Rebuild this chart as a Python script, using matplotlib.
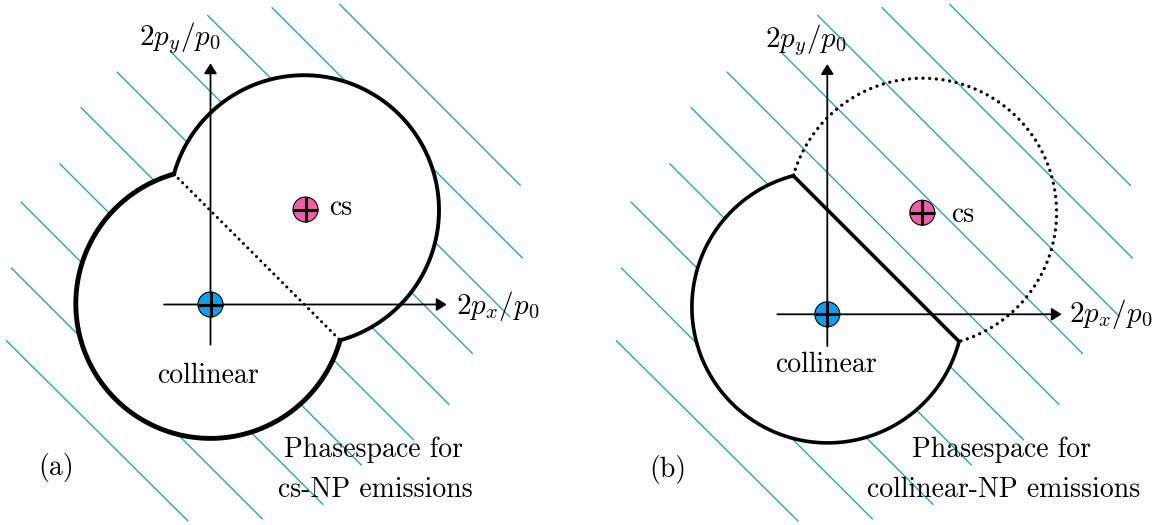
import numpy as np
import matplotlib
matplotlib.use("Agg")
import matplotlib.pyplot as plt
from matplotlib.patches import Circle, Polygon

plt.rcParams['mathtext.fontset'] = 'cm'

# ---------------- data (pixel-space diagram coordinates) ----------------
# hatch lines (same pattern in both panels, shifted horizontally)
hatch_start_x = [339.3, 271.7, 207.3, 170.7, 116.7, 80.7, 59.3, 20.7, 11.0, 6.0]
hatch_start_y = [4.0, 7.3, 15.0, 51.7, 71.7, 107.3, 163.3, 201.7, 267.7, 340.3]
hatch_end_x = [520.7, 522.7, 510.0, 472.7, 449.3, 414.0, 361.7, 323.3, 262.7, 188.3]
hatch_end_y = [185.7, 258.3, 317.0, 353.7, 404.7, 440.3, 465.3, 504.7, 519.3, 521.3]
hatch_shift = [0, 610]

panels = ["a", "b"]
coll_center = [(210.5, 303.7), (827.7, 307.1)]
coll_radius = [134.7, 135.8]
cs_center = [(304.0, 210.2), (922.4, 212.4)]
cs_radius = [135.0, 134.2]
blue_marker = [(210.5, 304.5), (827.3, 314.3)]
pink_marker = [(305.5, 209.5), (922.3, 212.7)]
marker_r = 12.5

# axes: (x of vertical axis, y bottom, y tip), (y of horizontal axis, x left, x tip)
vaxis = [(210.5, 344.7, 63.3), (827.3, 346.0, 64.0)]
haxis = [(304.5, 164.0, 446.7), (314.3, 777.3, 1061.7)]

ylabel_pos = [(180, 38), (806, 40)]
xlabel_pos = [(498, 306), (1111, 314)]
cs_label_pos = [(329, 215), (951, 222.5)]
coll_label_pos = [(208, 383), (826.5, 372)]
panel_label_pos = [(56, 475), (668, 477)]
phase_line1 = ["Phasespace for", "Phasespace for"]
phase_line2 = ["cs-NP emissions", "collinear-NP emissions"]
phase_pos1 = [(373, 457), (1001.7, 457)]
phase_pos2 = [(375, 497), (1003.5, 497)]
panel_labels = ["(a)", "(b)"]

teal = "#1aa8a0"
blue = "#0aa0f0"
pink = "#ee5fa8"

FS = 20
TXT = dict(fontfamily="cmr10", fontsize=FS, color="black")

# ---------------- helpers ----------------
def intersect(c1, r1, c2, r2):
    c1 = np.array(c1); c2 = np.array(c2)
    d = np.linalg.norm(c2 - c1)
    a = (r1**2 - r2**2 + d**2) / (2 * d)
    h = np.sqrt(max(r1**2 - a**2, 0))
    u = (c2 - c1) / d
    m = c1 + a * u
    perp = np.array([-u[1], u[0]])
    p1 = m + h * perp
    p2 = m - h * perp
    if p1.sum() > p2.sum():
        p1, p2 = p2, p1
    return p1, p2


def arc_away(c, r, other, p1, p2, n=400):
    c = np.array(c)
    a1 = np.arctan2(p1[1] - c[1], p1[0] - c[0])
    a2 = np.arctan2(p2[1] - c[1], p2[0] - c[0])
    away = np.arctan2(c[1] - other[1], c[0] - other[0])
    d = (a2 - a1) % (2 * np.pi)
    da = (away - a1) % (2 * np.pi)
    if da < d:
        t = np.linspace(a1, a1 + d, n)
    else:
        t = np.linspace(a1, a1 - (2 * np.pi - d), n)
    return np.column_stack([c[0] + r * np.cos(t), c[1] + r * np.sin(t)])


# ---------------- figure ----------------
fig = plt.figure(figsize=(11.58, 5.25), dpi=100)
ax = fig.add_axes([0, 0, 1, 1])
ax.set_xlim(0, 1158)
ax.set_ylim(525, 0)
ax.axis("off")

dot_style = dict(linestyle=(0, (0.01, 2.0)), dash_capstyle="round", color="black")

for i, p in enumerate(panels):
    sh = hatch_shift[i]
    for xs, ys, xe, ye in zip(hatch_start_x, hatch_start_y, hatch_end_x, hatch_end_y):
        ax.plot([xs + sh, xe + sh], [ys, ye], color=teal, lw=0.95, zorder=1,
                solid_capstyle="butt")

    P1, P2 = intersect(coll_center[i], coll_radius[i], cs_center[i], cs_radius[i])
    coll_arc = arc_away(coll_center[i], coll_radius[i], cs_center[i], P1, P2)
    cs_arc = arc_away(cs_center[i], cs_radius[i], coll_center[i], P1, P2)

    if p == "a":
        poly = np.vstack([coll_arc, cs_arc[::-1]])
        ax.add_patch(Polygon(poly, closed=True, facecolor="white", edgecolor="none", zorder=2))
        ax.plot(coll_arc[:, 0], coll_arc[:, 1], color="black", lw=3.5, zorder=4,
                solid_capstyle="round")
        ax.plot(cs_arc[:, 0], cs_arc[:, 1], color="black", lw=2.8, zorder=4,
                solid_capstyle="round")
        ax.plot([P1[0], P2[0]], [P1[1], P2[1]], lw=2.2, zorder=4, **dot_style)
    else:
        poly = coll_arc
        ax.add_patch(Polygon(poly, closed=True, facecolor="white", edgecolor="none", zorder=2))
        ax.plot(np.append(coll_arc[:, 0], coll_arc[0, 0]),
                np.append(coll_arc[:, 1], coll_arc[0, 1]),
                color="black", lw=2.6, zorder=4, solid_joinstyle="miter")
        ax.plot(cs_arc[:, 0], cs_arc[:, 1], lw=2.4, zorder=4, **dot_style)

    # axes arrows
    vx, vy0, vy1 = vaxis[i]
    hy, hx0, hx1 = haxis[i]
    arrow = dict(arrowstyle="-|>,head_length=0.6,head_width=0.38", color="black",
                 lw=1.3, shrinkA=0, shrinkB=0, mutation_scale=10)
    ax.annotate("", xy=(vx, vy1), xytext=(vx, vy0), arrowprops=arrow, zorder=3)
    ax.annotate("", xy=(hx1, hy), xytext=(hx0, hy), arrowprops=arrow, zorder=3)

    # markers
    for (mx, my), col in ((blue_marker[i], blue), (pink_marker[i], pink)):
        ax.add_patch(Circle((mx, my), marker_r, facecolor=col, edgecolor="black",
                            lw=0.8, zorder=5))
        ax.plot([mx - marker_r, mx + marker_r], [my, my], color="black", lw=2.2,
                zorder=6, solid_capstyle="butt")
        ax.plot([mx, mx], [my - marker_r, my + marker_r], color="black", lw=2.2,
                zorder=6, solid_capstyle="butt")

    # texts
    ax.text(*ylabel_pos[i], r"$2p_y/p_0$", fontsize=21, ha="center", va="center", zorder=7)
    ax.text(*xlabel_pos[i], r"$2p_x/p_0$", fontsize=21, ha="center", va="center", zorder=7)
    ax.text(*cs_label_pos[i], "cs", ha="left", va="baseline", zorder=7, **TXT)
    ax.text(*coll_label_pos[i], "collinear", ha="center", va="baseline", zorder=7, **TXT)
    ax.text(*panel_label_pos[i], panel_labels[i], ha="center", va="baseline", zorder=7, **TXT)
    ax.text(*phase_pos1[i], phase_line1[i], ha="center", va="baseline", zorder=7, **TXT)
    ax.text(*phase_pos2[i], phase_line2[i], ha="center", va="baseline", zorder=7, **TXT)

fig.savefig("out.png", dpi=100)
